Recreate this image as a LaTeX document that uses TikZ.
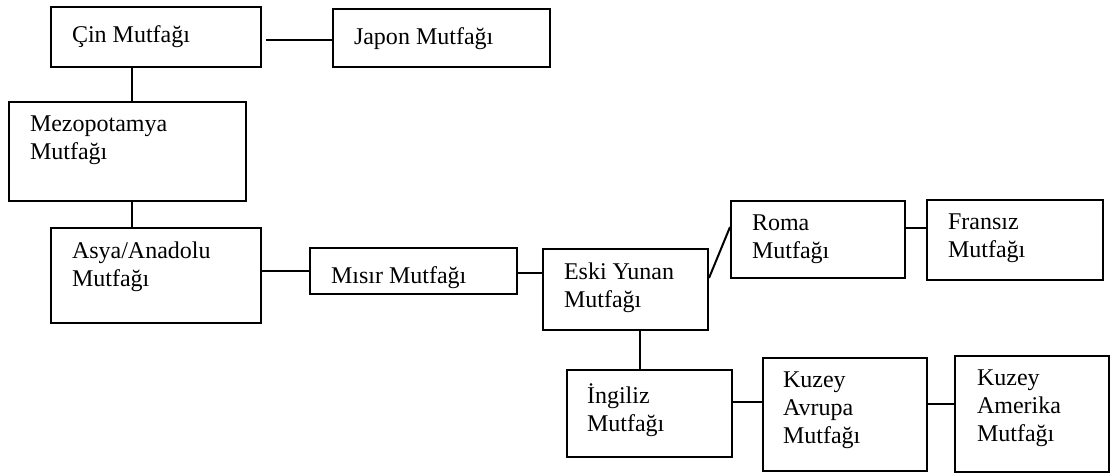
\documentclass[tikz,border=0pt]{standalone}
\usepackage{fontspec}
\setmainfont{Liberation Serif}
\usetikzlibrary{fit}
\begin{document}
\begin{tikzpicture}[x=0.5pt, y=-0.5pt, line join=miter, line width=1pt,
    kutu/.style={draw, inner sep=0pt, line width=1pt},
    yazi/.style={anchor=north west, inner sep=0pt, align=left, font=\fontsize{12pt}{14pt}\selectfont,
      execute at begin node={\rule{0pt}{11pt}}}]
    \useasboundingbox (0,0) rectangle (1111,474);
    % kutular
    \node[kutu, fit={(51,7) (261,67)}] (cin) {};
    \node[kutu, fit={(333,9) (550,67)}] (japon) {};
    \node[kutu, fit={(9,102) (246,201)}] (mezo) {};
    \node[kutu, fit={(51,228) (261,323)}] (asya) {};
    \node[kutu, fit={(310,248) (517,294)}] (misir) {};
    \node[kutu, fit={(543,249) (708,330)}] (eski) {};
    \node[kutu, fit={(731,201) (905,278)}] (roma) {};
    \node[kutu, fit={(927,200) (1103,280)}] (fransiz) {};
    \node[kutu, fit={(567,370) (732,457)}] (ingiliz) {};
    \node[kutu, fit={(763,358) (927,471)}] (kavrupa) {};
    \node[kutu, fit={(955,356) (1109,472)}] (kamerika) {};
    % yazilar
    \node[yazi] (cin-y) at ([shift={(21,13.5)}]cin.north west) {Çin Mutfağı};
    \node[yazi] (japon-y) at ([shift={(21,13.5)}]japon.north west) {Japon Mutfağı};
    \node[yazi] (mezo-y) at ([shift={(21,13.5)}]mezo.north west) {Mezopotamya\\Mutfağı};
    \node[yazi] (asya-y) at ([shift={(21,13.5)}]asya.north west) {Asya/Anadolu\\Mutfağı};
    \node[yazi] (misir-y) at ([shift={(21,13.5)}]misir.north west) {Mısır Mutfağı};
    \node[yazi] (eski-y) at ([shift={(21,13.5)}]eski.north west) {Eski Yunan\\Mutfağı};
    \node[yazi] (roma-y) at ([shift={(21,13.5)}]roma.north west) {Roma\\Mutfağı};
    \node[yazi] (fransiz-y) at ([shift={(21,13.5)}]fransiz.north west) {Fransız\\Mutfağı};
    \node[yazi] (ingiliz-y) at ([shift={(20,13.5)}]ingiliz.north west) {İngiliz\\Mutfağı};
    \node[yazi] (kavrupa-y) at ([shift={(20,13.5)}]kavrupa.north west) {Kuzey\\Avrupa\\Mutfağı};
    \node[yazi] (kamerika-y) at ([shift={(22,13.5)}]kamerika.north west) {Kuzey\\Amerika\\Mutfağı};
    % baglantilar
    \draw ([xshift=2pt,yshift=-1.5pt]cin.east) -- ([yshift=-1.5pt]cin.east -| japon.west);
    \draw ([xshift=2.25pt]mezo.north) -- ([xshift=2.25pt]mezo.north |- cin.south);
    \draw ([xshift=2.25pt]mezo.south) -- ([xshift=2.25pt]mezo.south |- asya.north);
    \draw (misir.west) -- (misir.west -| asya.east);
    \draw ([yshift=-1pt]misir.east) -- ([yshift=-1pt]misir.east -| eski.west);
    \draw ([yshift=5.75pt]eski.east) -- ([yshift=6.25pt]roma.west);
    \draw ([yshift=5.75pt]roma.east) -- ([yshift=5.75pt]roma.east -| fransiz.west);
    \draw ([xshift=7.25pt]eski.south) -- ([xshift=7.25pt]eski.south |- ingiliz.north);
    \draw ([yshift=5.75pt]ingiliz.east) -- ([yshift=5.75pt]ingiliz.east -| kavrupa.west);
    \draw ([yshift=5.25pt]kavrupa.east) -- ([yshift=5.25pt]kavrupa.east -| kamerika.west);
\end{tikzpicture}
\end{document}
